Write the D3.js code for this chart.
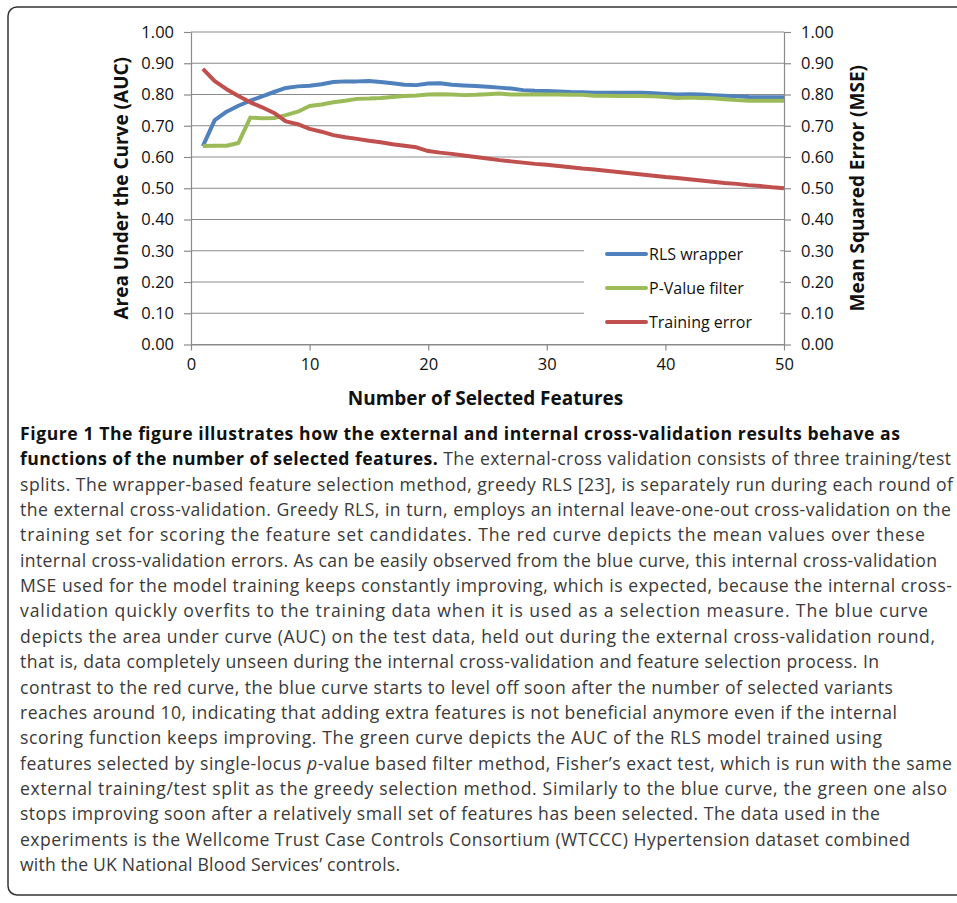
<!DOCTYPE html>
<html>
<head>
<meta charset="utf-8">
<script src="https://d3js.org/d3.v7.min.js"></script>
<style>
	body{
		margin:0;
		background:#fff;
	}
	.grid line{
		stroke:#8a8a8a;
		stroke-width:1.2;
	}
	.tick text{
		font-family:"Open Sans", sans-serif;
		font-size:16.5px;
		fill:#111;
	}
	.axtitle{
		font-family:"Open Sans", sans-serif;
		font-weight:bold;
		font-size:19px;
		fill:#111;
	}
	.legend text{
		font-family:"Open Sans", sans-serif;
		font-size:16px;
		fill:#111;
	}
	.caption{
		font-family:"Open Sans", sans-serif;
		font-size:17.6px;
		fill:#3a3a3a;
	}
	.caption .b{
		font-weight:bold;
		fill:#111;
	}
</style>
</head>
<body>
<div id="container"></div>

<script type="text/javascript">

// values
var features = [1,2,3,4,5,6,7,8,9,10,11,12,13,14,15,16,17,18,19,20,21,22,23,24,25,
	26,27,28,29,30,31,32,33,34,35,36,37,38,39,40,41,42,43,44,45,46,47,48,49,50];

var rlsWrapper = [0.635,0.718,0.745,0.764,0.780,0.794,0.808,0.821,0.826,0.828,
	0.833,0.840,0.842,0.842,0.843,0.840,0.836,0.831,0.830,0.835,
	0.836,0.831,0.829,0.827,0.825,0.822,0.819,0.814,0.812,0.811,
	0.810,0.808,0.807,0.806,0.806,0.806,0.806,0.806,0.804,0.802,
	0.800,0.801,0.800,0.798,0.796,0.794,0.792,0.791,0.791,0.791];

var pValueFilter = [0.635,0.636,0.636,0.645,0.726,0.724,0.725,0.734,0.745,0.763,
	0.768,0.775,0.780,0.786,0.787,0.789,0.792,0.795,0.797,0.800,
	0.801,0.800,0.798,0.799,0.801,0.803,0.800,0.800,0.800,0.800,
	0.800,0.799,0.799,0.796,0.796,0.795,0.795,0.795,0.794,0.792,
	0.789,0.790,0.789,0.788,0.785,0.782,0.780,0.780,0.780,0.780];

var trainingError = [0.882,0.843,0.817,0.795,0.775,0.759,0.741,0.714,0.705,0.690,
	0.681,0.670,0.663,0.658,0.652,0.647,0.641,0.636,0.631,0.619,
	0.614,0.610,0.605,0.600,0.595,0.590,0.586,0.582,0.578,0.575,
	0.571,0.567,0.563,0.560,0.556,0.552,0.548,0.544,0.540,0.536,
	0.533,0.529,0.525,0.521,0.517,0.514,0.510,0.507,0.503,0.500];

var seriesNames = ["RLS wrapper", "P-Value filter", "Training error"];
var seriesColors = ["#4f81bd", "#9bbb59", "#c0504d"];

var xTicks = [0,10,20,30,40,50];
var yTicks = [0,0.1,0.2,0.3,0.4,0.5,0.6,0.7,0.8,0.9,1.0];

var xTitle = "Number of Selected Features";
var yLeftTitle = "Area Under the Curve (AUC)";
var yRightTitle = "Mean Squared Error (MSE)";

// caption, one entry per printed line: [bold part, normal part, line end x]
var captionLines = [
	["Figure 1 The figure illustrates how the external and internal cross-validation results behave as", "", 900],
	["functions of the number of selected features.", " The external-cross validation consists of three training/test", 951],
	["", "splits. The wrapper-based feature selection method, greedy RLS [23], is separately run during each round of", 953],
	["", "the external cross-validation. Greedy RLS, in turn, employs an internal leave-one-out cross-validation on the", 951],
	["", "training set for scoring the feature set candidates. The red curve depicts the mean values over these", 925],
	["", "internal cross-validation errors. As can be easily observed from the blue curve, this internal cross-validation", 937],
	["", "MSE used for the model training keeps constantly improving, which is expected, because the internal cross-", 952],
	["", "validation quickly overfits to the training data when it is used as a selection measure. The blue curve", 928],
	["", "depicts the area under curve (AUC) on the test data, held out during the external cross-validation round,", 935],
	["", "that is, data completely unseen during the internal cross-validation and feature selection process. In", 879],
	["", "contrast to the red curve, the blue curve starts to level off soon after the number of selected variants", 893],
	["", "reaches around 10, indicating that adding extra features is not beneficial anymore even if the internal", 897],
	["", "scoring function keeps improving. The green curve depicts the AUC of the RLS model trained using", 882],
	["", "features selected by single-locus |p|-value based filter method, Fisher\u2019s exact test, which is run with the same", 952],
	["", "external training/test split as the greedy selection method. Similarly to the blue curve, the green one also", 947],
	["", "stops improving soon after a relatively small set of features has been selected. The data used in the", 880],
	["", "experiments is the Wellcome Trust Case Controls Consortium (WTCCC) Hypertension dataset combined", 910],
	["", "with the UK National Blood Services\u2019 controls.", 400]
];

var W = 957, H = 903;

var svg = d3.select("#container")
	.append("svg")
	.attr("width", W)
	.attr("height", H);

// frame round the figure
svg.append("rect")
	.attr("x", 8).attr("y", 7)
	.attr("width", 990).attr("height", 888)
	.attr("rx", 9)
	.style("fill", "none")
	.style("stroke", "#333")
	.style("stroke-width", 1.5);

var plot = {left:191, right:784, top:32, bottom:344.5};

var x = d3.scaleLinear().domain([0,50]).range([plot.left, plot.right]);
var y = d3.scaleLinear().domain([0,1]).range([plot.bottom, plot.top]);

// horizontal gridlines
svg.append("g")
	.attr("class", "grid")
	.selectAll("line")
	.data(yTicks)
	.enter().append("line")
	.attr("x1", plot.left).attr("x2", plot.right)
	.attr("y1", function(d){ return y(d); })
	.attr("y2", function(d){ return y(d); });

function styleAxis(g){
	g.select(".domain").style("stroke", "#8a8a8a").style("stroke-width", 1.2);
	g.selectAll(".tick line").style("stroke", "#8a8a8a").style("stroke-width", 1.2);
}

var leftAxis = svg.append("g")
	.attr("transform", "translate(" + plot.left + ",0)")
	.call(d3.axisLeft(y).tickValues(yTicks).tickFormat(d3.format(".2f")).tickSize(7).tickSizeOuter(0).tickPadding(10));
styleAxis(leftAxis);

var rightAxis = svg.append("g")
	.attr("transform", "translate(" + plot.right + ",0)")
	.call(d3.axisRight(y).tickValues(yTicks).tickFormat(d3.format(".2f")).tickSize(7).tickSizeOuter(0).tickPadding(10));
styleAxis(rightAxis);

var bottomAxis = svg.append("g")
	.attr("transform", "translate(0," + plot.bottom + ")")
	.call(d3.axisBottom(x).tickValues(xTicks).tickFormat(d3.format("d")).tickSize(6).tickSizeOuter(0).tickPadding(8));
styleAxis(bottomAxis);

// axis titles
svg.append("text")
	.attr("class", "axtitle")
	.attr("x", (plot.left + plot.right)/2 - 2)
	.attr("y", 405)
	.attr("text-anchor", "middle")
	.text(xTitle);

svg.append("text")
	.attr("class", "axtitle")
	.attr("transform", "translate(128," + (plot.top + plot.bottom)/2 + ") rotate(-90)")
	.attr("text-anchor", "middle")
	.text(yLeftTitle);

svg.append("text")
	.attr("class", "axtitle")
	.attr("transform", "translate(864," + (plot.top + plot.bottom)/2 + ") rotate(-90)")
	.attr("text-anchor", "middle")
	.text(yRightTitle);

// lines
var seriesData = [rlsWrapper, pValueFilter, trainingError];

var line = d3.line()
	.x(function(d, i){ return x(features[i]); })
	.y(function(d){ return y(d); });

svg.selectAll("path.series")
	.data(seriesData)
	.enter().append("path")
	.attr("class", "series")
	.attr("d", line)
	.style("fill", "none")
	.style("stroke", function(d, i){ return seriesColors[i]; })
	.style("stroke-width", 4)
	.style("stroke-linejoin", "round");

// legend
var legend = svg.append("g").attr("class", "legend");

legend.append("rect")
	.attr("x", 584).attr("y", 236)
	.attr("width", 196).attr("height", 102)
	.style("fill", "#fff");

var ls_y0 = 254, ls_h = 34;

legend.selectAll("line")
	.data(seriesNames)
	.enter().append("line")
	.attr("x1", 607).attr("x2", 646)
	.attr("y1", function(d, i){ return ls_y0 + i*ls_h; })
	.attr("y2", function(d, i){ return ls_y0 + i*ls_h; })
	.style("stroke", function(d, i){ return seriesColors[i]; })
	.style("stroke-width", 4)
	.style("stroke-linecap", "round");

legend.selectAll("text")
	.data(seriesNames)
	.enter().append("text")
	.attr("x", 649)
	.attr("y", function(d, i){ return ls_y0 + i*ls_h + 6; })
	.text(function(d){ return d; });

// caption
var cap = svg.append("g").attr("class", "caption");
var capX = 20, capY0 = 440, capStep = 25.35;

captionLines.forEach(function(l, i){
	var t = cap.append("text")
		.attr("x", capX)
		.attr("y", capY0 + i*capStep)
		.attr("textLength", l[2] - capX)
		.attr("lengthAdjust", "spacing");
	if (l[0]) t.append("tspan").attr("class", "b").text(l[0]);
	if (l[1]) {
		var parts = l[1].split("|");
		parts.forEach(function(p, j){
			var s = t.append("tspan").text(p);
			if (j % 2 == 1) s.style("font-style", "italic");
		});
	}
});

</script>
</body>
</html>
